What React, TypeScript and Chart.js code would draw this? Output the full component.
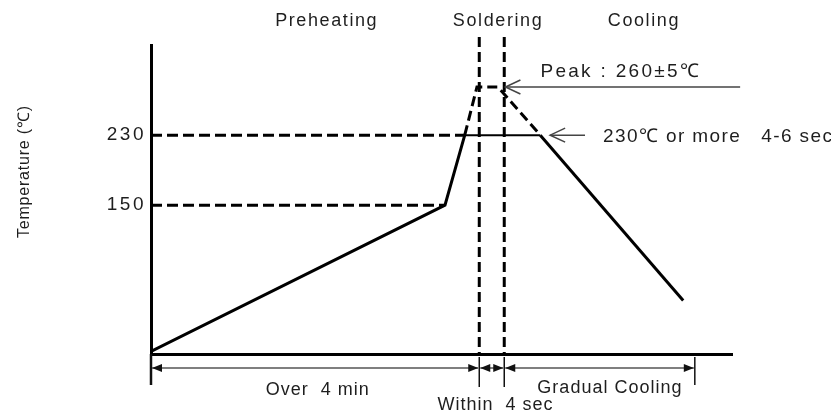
import React, { useEffect, useRef } from 'react';
import { Chart, registerables } from 'chart.js';

Chart.register(...registerables);

// ---- Data (schematic reflow profile; x = share of process time 0..100, y = temperature level) ----
const profileTime = [0, 50.6, 54.0, 56.1, 59.7, 67.0, 91.6];
const profileTemp = [-17, 150, 230, 285, 285, 230, 41];
const dashedProfileSegments = [2, 3, 4]; // segments above 230 drawn dashed
const tempTicks = [150, 230];
const level150Span = [0, 50.6];
const level230Dashed = [0, 54.0];
const level230Solid = [54.0, 67.0];
const solderingBounds = [56.5, 60.8];
const guideTop = 342;
const zoneBounds = [0, 56.5, 60.8, 93.6];
const zoneLabels = ['Over  4 min', 'Within  4 sec', 'Gradual Cooling'];
const zoneLabelCenters = [28.6, 59.2, 78.9];
const phaseLabels = ['Preheating', 'Soldering', 'Cooling'];
const phaseCenters = [30.1, 59.6, 84.7];
const peakLabel = 'Peak : 260±5℃';
const soakLabel = '230℃ or more   4-6 sec';
const yTitle = 'Temperature (℃)';
const peakArrow = { tip: 61.0, tail: 101.4, level: 285 };
const soakArrow = { tip: 68.7, tail: 74.7, level: 230 };

const FONT = '"Liberation Sans", Arial, sans-serif';

function setFont(ctx: CanvasRenderingContext2D, size: number, ls: number) {
  ctx.font = `${size}px ${FONT}`;
  (ctx as any).letterSpacing = `${ls}px`;
}

function drawText(ctx: CanvasRenderingContext2D, s: string, x: number, y: number, size: number, ls: number, align: CanvasTextAlign) {
  setFont(ctx, size, ls);
  ctx.textAlign = align;
  ctx.textBaseline = 'alphabetic';
  const shift = align === 'center' ? ls / 2 : align === 'right' ? ls : 0;
  ctx.fillText(s, x + shift, y);
}

function chevron(ctx: CanvasRenderingContext2D, x: number, y: number) {
  ctx.beginPath();
  ctx.moveTo(x + 15, y - 7);
  ctx.lineTo(x, y);
  ctx.lineTo(x + 15, y + 7);
  ctx.stroke();
}

function tri(ctx: CanvasRenderingContext2D, x: number, y: number, dir: number) {
  ctx.beginPath();
  ctx.moveTo(x, y);
  ctx.lineTo(x - dir * 10, y - 4);
  ctx.lineTo(x - dir * 10, y + 4);
  ctx.closePath();
  ctx.fill();
}

const annotationPlugin = {
  id: 'annotations',
  beforeDraw(chart: any) {
    (chart.ctx as any).letterSpacing = '2.5px';
  },
  afterDraw(chart: any) {
    const { ctx, chartArea } = chart;
    const xs = chart.scales.x;
    const ys = chart.scales.y;
    const X = (v: number) => xs.getPixelForValue(v);
    const Y = (v: number) => ys.getPixelForValue(v);
    ctx.save();
    ctx.fillStyle = '#1e1e1e';
    ctx.strokeStyle = '#222';

    // phase titles
    phaseLabels.forEach((t, i) => drawText(ctx, t, X(phaseCenters[i]), 26, 18, 1.6, 'center'));

    // y title
    ctx.save();
    ctx.translate(29, 172);
    ctx.rotate(-Math.PI / 2);
    drawText(ctx, yTitle, 0, 0, 16, 0.8, 'center');
    ctx.restore();

    // peak arrow
    ctx.lineWidth = 1.5;
    ctx.strokeStyle = '#444';
    const py = Y(peakArrow.level);
    ctx.beginPath();
    ctx.moveTo(X(peakArrow.tip), py);
    ctx.lineTo(X(peakArrow.tail), py);
    ctx.stroke();
    chevron(ctx, X(peakArrow.tip), py);
    drawText(ctx, peakLabel, X(peakArrow.tip) + 35, py - 10, 19, 2.3, 'left');

    // 230 arrow
    const sy = Y(soakArrow.level);
    ctx.beginPath();
    ctx.moveTo(X(soakArrow.tip), sy);
    ctx.lineTo(X(soakArrow.tail), sy);
    ctx.stroke();
    chevron(ctx, X(soakArrow.tip), sy);
    drawText(ctx, soakLabel, X(soakArrow.tail) + 18, sy + 7, 19, 1.4, 'left');

    // bottom dimension lines
    const b = chartArea.bottom;
    const ay = b + 14;
    ctx.strokeStyle = '#111';
    ctx.fillStyle = '#111';
    ctx.lineWidth = 2.5;
    ctx.beginPath();
    ctx.moveTo(X(zoneBounds[0]), b);
    ctx.lineTo(X(zoneBounds[0]), b + 31);
    ctx.stroke();
    ctx.lineWidth = 1.5;
    for (let i = 1; i < zoneBounds.length; i++) {
      ctx.beginPath();
      ctx.moveTo(X(zoneBounds[i]), b + 3);
      ctx.lineTo(X(zoneBounds[i]), b + (i === zoneBounds.length - 1 ? 31 : 33));
      ctx.stroke();
    }
    ctx.strokeStyle = '#555';
    for (let i = 0; i < zoneBounds.length - 1; i++) {
      const a = X(zoneBounds[i]) + 1;
      const c = X(zoneBounds[i + 1]) - 1;
      ctx.beginPath();
      ctx.moveTo(a, ay);
      ctx.lineTo(c, ay);
      ctx.stroke();
      tri(ctx, a, ay, -1);
      tri(ctx, c, ay, 1);
    }
    ctx.fillStyle = '#1e1e1e';
    const zoneBase = [b + 41, b + 56, b + 39];
    zoneLabels.forEach((t, i) => drawText(ctx, t, X(zoneLabelCenters[i]), zoneBase[i], 18, 1.0, 'center'));

    ctx.restore();
  },
};

export default function App() {
  const ref = useRef<HTMLCanvasElement | null>(null);
  useEffect(() => {
    if (!ref.current) return;
    const pts = (xs: number[], ys: number[]) => xs.map((x, i) => ({ x, y: ys[i] }));
    const chart = new Chart(ref.current, {
      type: 'line',
      data: {
        datasets: [
          {
            data: pts(profileTime, profileTemp),
            borderColor: '#000',
            borderWidth: 3,
            pointRadius: 0,
            tension: 0,
            segment: {
              borderDash: (c: any) => (dashedProfileSegments.includes(c.p0DataIndex) ? [10, 5] : undefined),
            },
            order: 0,
          },
          {
            data: pts(level150Span, [150, 150]),
            borderColor: '#000',
            borderWidth: 3,
            borderDash: [11, 5],
            pointRadius: 0,
            order: 2,
          },
          {
            data: pts(level230Dashed, [230, 230]),
            borderColor: '#000',
            borderWidth: 3,
            borderDash: [11, 5],
            pointRadius: 0,
            order: 2,
          },
          {
            data: pts(level230Solid, [230, 230]),
            borderColor: '#000',
            borderWidth: 2,
            pointRadius: 0,
            order: 2,
          },
          ...solderingBounds.map((v) => ({
            data: [
              { x: v, y: guideTop },
              { x: v, y: -20 },
            ],
            borderColor: '#000',
            borderWidth: 3,
            borderDash: [10, 5],
            pointRadius: 0,
            clip: false as any,
            order: 3,
          })),
        ],
      },
      options: {
        responsive: false,
        animation: false,
        events: [],
        layout: { padding: { left: 0, top: 45, right: 99, bottom: 0 } },
        plugins: { legend: { display: false }, tooltip: { enabled: false } },
        scales: {
          x: {
            type: 'linear',
            min: 0,
            max: 100,
            ticks: { display: false },
            grid: { display: false, drawTicks: false },
            border: { display: true, color: '#000', width: 3 },
            afterFit: (s: any) => {
              s.height = 61;
            },
          },
          y: {
            type: 'linear',
            min: -20,
            max: 333,
            afterBuildTicks: (s: any) => {
              s.ticks = tempTicks.map((value) => ({ value }));
            },
            ticks: {
              color: '#1e1e1e',
              padding: 5,
              font: { family: FONT, size: 19 },
            },
            grid: { display: false, drawTicks: false },
            border: { display: true, color: '#000', width: 3 },
            afterFit: (s: any) => {
              s.width = 151;
            },
          },
        },
      },
      plugins: [annotationPlugin],
    });
    return () => chart.destroy();
  }, []);
  return (
    <div style={{ position: 'fixed', left: 0, top: 0, width: 831, height: 415, background: '#fff' }}>
      <canvas ref={ref} width={831} height={415} />
    </div>
  );
}
